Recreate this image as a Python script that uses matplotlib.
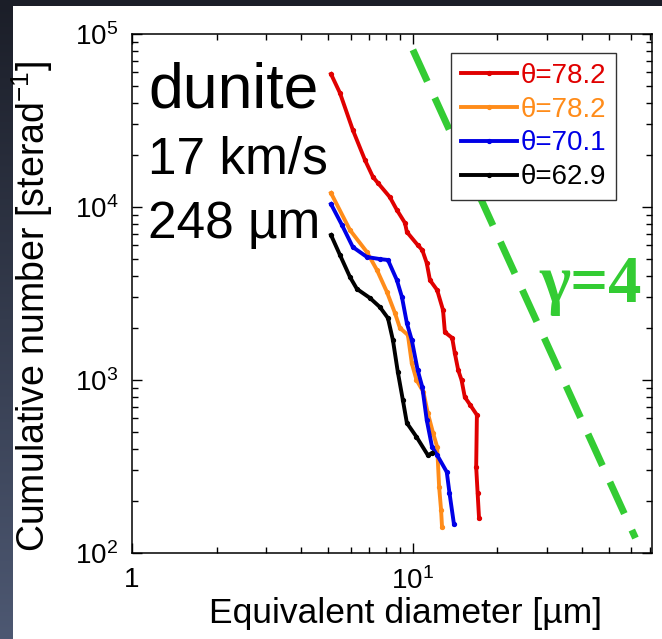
import numpy as np
import matplotlib
matplotlib.use('Agg')
import matplotlib.pyplot as plt
from matplotlib.patches import Rectangle

plt.rcParams['font.family'] = ['Liberation Sans', 'DejaVu Sans']
plt.rcParams['mathtext.fontset'] = 'custom'
plt.rcParams['mathtext.rm'] = 'Liberation Sans'
plt.rcParams['mathtext.it'] = 'Liberation Sans:italic'

# cumulative size distributions
red_d = [5.11, 5.50, 6.11, 6.75, 7.21, 7.50, 8.28, 8.77, 9.37, 9.52, 10.4, 10.8, 11.2,
         11.5, 12.2, 12.8, 13.0, 13.8, 14.1, 14.5, 14.9, 15.3, 16.0, 16.9, 16.8, 17.0, 17.2]
red_n = [58700, 45600, 27900, 18700, 14900, 13800, 11400, 9610, 8090, 7170, 6030, 5640, 4750,
         3780, 3310, 2540, 1890, 1750, 1430, 1140, 1000, 798, 717, 628, 314, 222, 159]

orange_d = [5.11, 5.97, 6.86, 7.45, 8.08, 8.63, 8.99, 9.60, 9.91, 10.3, 10.9, 11.3, 11.8,
            12.2, 12.4, 12.6, 12.7]
orange_n = [12050, 7360, 5490, 4320, 3230, 2440, 2000, 1820, 1250, 1000, 853, 644, 494,
            410, 241, 177, 141]

blue_d = [5.11, 5.59, 6.11, 6.86, 7.63, 8.15, 8.77, 9.14, 9.52, 9.91, 10.4, 10.8, 11.2,
          11.7, 12.2, 13.2, 13.5, 14.0]
blue_n = [10400, 7870, 5870, 5140, 5000, 4940, 3780, 3020, 2130, 1700, 1140, 912, 588,
          410, 368, 294, 222, 147]

black_d = [5.11, 5.50, 5.97, 6.32, 7.03, 7.63, 8.15, 8.49, 8.84, 9.21, 9.52, 10.3, 11.3, 11.7]
black_n = [6890, 5280, 3940, 3360, 2980, 2640, 2280, 1700, 1110, 766, 564, 469, 368, 378]

labels = ['θ=78.2', 'θ=78.2', 'θ=70.1', 'θ=62.9']
colors = ['#e00000', '#ff8c1a', '#0000e6', 'black']

# gamma=4 reference line end points
gamma_d = [10.0, 62.0]
gamma_n = [81000, 122]

fig = plt.figure(figsize=(6.62, 6.39), dpi=100)

# dark frame on the left/top edge like the slide background
bg = fig.add_axes([0, 0, 1, 1], zorder=-10)
grad = np.linspace(0, 1, 256).reshape(-1, 1)
bg.imshow(grad, aspect='auto', extent=[0, 1, 0, 1], origin='upper',
          cmap=matplotlib.colors.LinearSegmentedColormap.from_list('bgc', ['#1b1e28', '#4d5872']))
bg.add_patch(Rectangle((13 / 662, 0), 1, 1 - 6 / 639, facecolor='white', edgecolor='none'))
bg.set_xlim(0, 1)
bg.set_ylim(0, 1)
bg.axis('off')

ax = fig.add_axes([132 / 662, 1 - 553 / 639, 520 / 662, 519 / 639])

series = [(red_d, red_n), (orange_d, orange_n), (blue_d, blue_n), (black_d, black_n)]
for (d, n), c, lab in zip(series, colors, labels):
    ax.plot(d, n, color=c, lw=2.8, marker='o', ms=2.8, label=lab)

ax.plot(gamma_d, gamma_n, color='#33cc33', lw=5, dashes=(5, 2.6), dash_capstyle='butt')

ax.set_xscale('log')
ax.set_yscale('log')
ax.set_xlim(1, 71)
ax.set_ylim(1e2, 1e5)

ax.set_xticks([1, 10])
ax.set_xticklabels(['1', r'$\mathdefault{10^{1}}$'])
ax.set_yticks([1e2, 1e3, 1e4, 1e5])
ax.set_yticklabels([r'$\mathdefault{10^{%d}}$' % k for k in [2, 3, 4, 5]])
ax.tick_params(which='both', direction='in', top=True, right=True, labelsize=20, pad=10)
ax.tick_params(which='major', length=7, width=1)
ax.tick_params(which='minor', length=4, width=1)
for s in ax.spines.values():
    s.set_linewidth(1.1)

ax.set_xlabel('Equivalent diameter [µm]', fontsize=25.5)
ax.xaxis.set_label_coords(0.526, -0.085)
ax.set_ylabel(r'Cumulative number [sterad$^{\mathdefault{-1}}$]', fontsize=27)
ax.yaxis.set_label_coords(-0.149, 0.475)

ax.text(0.031, 0.859, 'dunite', transform=ax.transAxes, fontsize=45, va='baseline')
ax.text(0.031, 0.732, '17 km/s', transform=ax.transAxes, fontsize=37, va='baseline')
ax.text(0.031, 0.607, '248 µm', transform=ax.transAxes, fontsize=37, va='baseline')
ax.text(0.783, 0.484, 'γ=4', transform=ax.transAxes, fontsize=48, va='baseline',
        color='#33cc33', family='Liberation Serif', weight='bold')

leg = ax.legend(loc='upper right', bbox_to_anchor=(0.931, 0.963), borderaxespad=0,
                fontsize=20, handlelength=2.0, handletextpad=0.15, labelspacing=0.28,
                borderpad=0.35, fancybox=False, framealpha=1, labelcolor='linecolor')
leg.get_frame().set_edgecolor('#333333')
leg.get_frame().set_linewidth(1.0)

fig.savefig('out.png', dpi=100)
